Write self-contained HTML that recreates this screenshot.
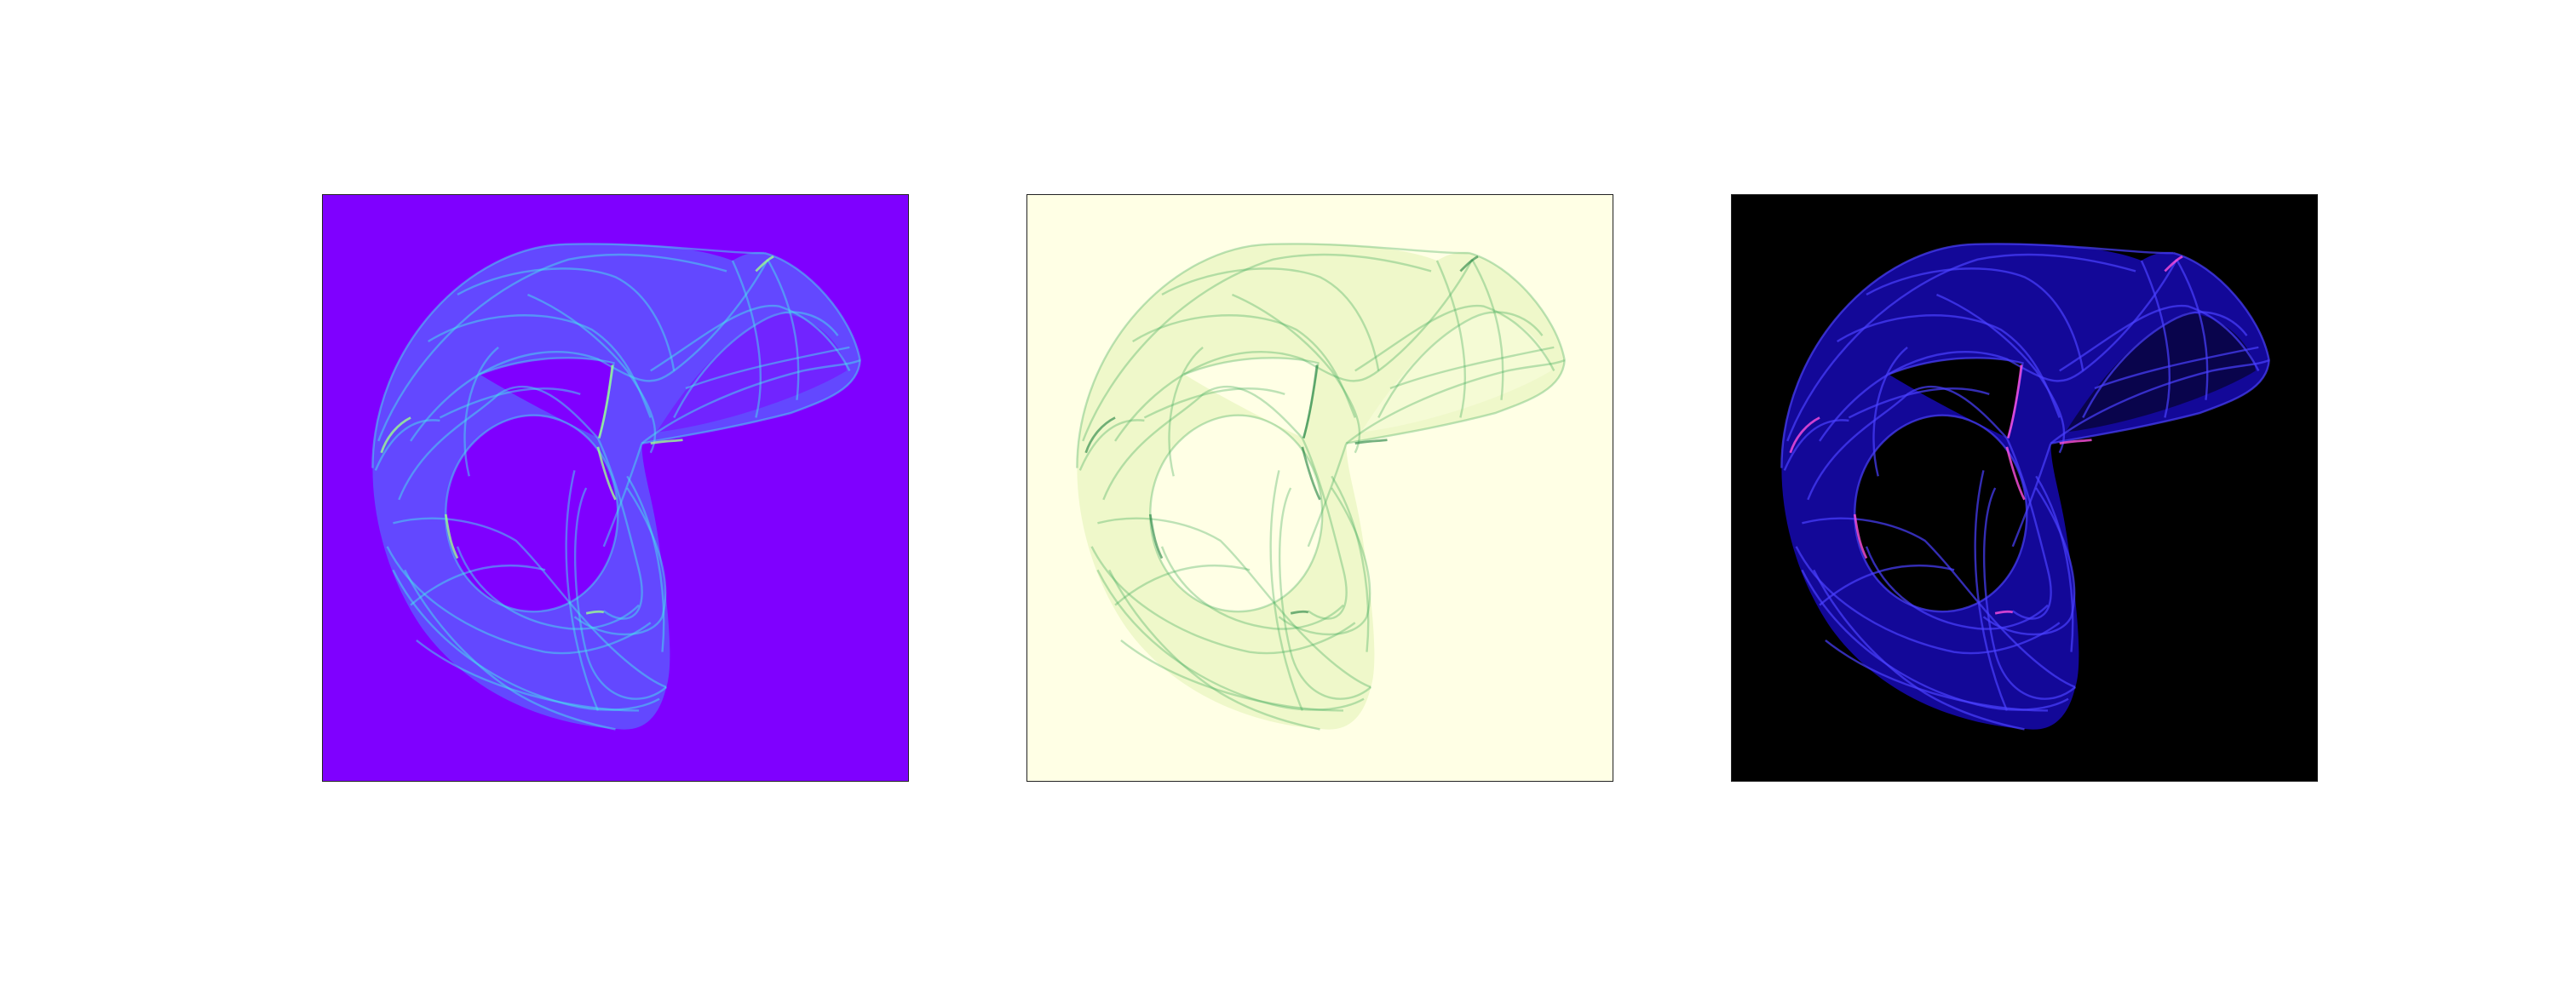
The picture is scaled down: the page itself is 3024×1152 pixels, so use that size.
<!DOCTYPE html>
<html><head><meta charset="utf-8">
<style>
html,body{margin:0;padding:0;background:#fff;}
body{width:3024px;height:1152px;position:relative;overflow:hidden;font-family:"Liberation Sans",sans-serif;}
.panel{position:absolute;top:228px;width:689px;height:690px;box-sizing:border-box;border:1.5px solid #222;}
svg{display:block;width:100%;height:100%;}
</style></head>
<body>
<div class="panel" id="p1" style="left:378px"></div>
<div class="panel" id="p2" style="left:1205px"></div>
<div class="panel" id="p3" style="left:2032px"></div>
<script>
const outerShape = "M85,466 C85,260 250,88 415,84 C560,80 650,92 700,112 C720,100 735,96 755,99 C830,120 905,210 918,282 C915,330 860,350 800,372 C700,398 610,412 545,424 C545,470 565,520 575,600 C590,700 600,800 587,840 C575,890 550,915 510,912 C380,905 250,850 170,740 C115,660 85,560 85,466 Z";
const holeShape = "M210,545 C210,440 290,376 360,376 C440,376 504,450 504,545 C504,640 440,711 360,711 C280,711 210,640 210,545 Z";
const upperHole = "M268,306 C360,270 450,275 497,287 C490,330 482,380 472,415 C420,390 340,350 268,306 Z";
const lobeInner = "M570,405 C630,310 700,230 780,200 C850,210 890,260 895,300 C830,340 690,390 570,405 Z";
const strands = [
 "M85,466 C85,260 250,88 415,84 C560,80 680,100 755,99",
 "M755,99 C830,120 905,210 918,282 C915,330 860,350 800,372 C700,398 610,412 545,424",
 "M210,545 C210,440 290,376 360,376 C440,376 504,450 504,545 C504,640 440,711 360,711 C280,711 210,640 210,545",
 "M268,306 C360,270 450,275 497,287 C490,330 482,380 472,415",
 "M150,420 C230,300 360,240 470,280 C540,320 560,330 600,300 C680,240 740,150 760,110",
 "M130,520 C170,420 260,380 300,340 C360,300 420,360 470,415",
 "M90,470 C120,400 160,380 200,385",
 "M120,560 C200,540 280,560 330,590 C380,640 420,700 480,760 C520,800 560,830 587,840",
 "M470,415 C500,480 520,560 540,640 C560,720 520,740 480,710",
 "M450,500 C420,560 430,700 450,780 C470,860 540,880 587,840",
 "M500,912 C440,900 380,880 330,850 C250,800 180,720 140,640",
 "M545,424 C520,500 500,550 480,600",
 "M560,300 C640,250 720,180 780,190 C840,210 880,260 900,300",
 "M545,424 C600,380 700,330 820,300 C870,290 900,290 918,282",
 "M230,170 C300,130 420,110 500,140 C560,170 590,240 600,300",
 "M110,600 C160,700 280,760 380,780 C450,790 520,760 560,730",
 "M300,260 C250,300 230,400 250,480",
 "M700,112 C740,200 760,300 740,380",
 "M430,720 C480,760 560,760 580,720 C600,650 560,560 520,500",
 "M160,760 C260,840 420,880 540,880",
 "M350,170 C420,200 480,250 520,300 C560,360 580,400 560,440",
 "M95,420 C140,300 260,160 420,110 C520,90 620,110 690,130",
 "M180,250 C260,200 380,190 460,230 C520,270 540,330 560,380",
 "M120,640 C180,760 300,840 420,870 C480,885 540,880 575,860",
 "M230,600 C260,680 330,730 420,740 C480,745 520,720 540,700",
 "M600,380 C640,300 700,240 760,210 C800,190 850,200 880,240",
 "M760,110 C800,180 820,260 810,350",
 "M620,330 C700,300 800,280 900,260",
 "M200,380 C300,330 380,320 440,340",
 "M430,470 C400,600 420,760 470,880",
 "M520,480 C570,560 590,680 580,780",
 "M150,700 C220,640 300,620 380,640"
];
const brights = [
 "M495,290 C490,330 482,380 472,415",
 "M100,440 C110,410 130,390 150,380",
 "M210,545 C215,580 220,600 230,620",
 "M560,424 C580,420 600,420 615,418",
 "M740,130 C750,120 760,110 770,105",
 "M470,430 C480,470 490,500 500,520",
 "M480,712 C470,710 460,712 450,714"
];
const schemes = {
 p1:{bg:"#7f00ff", band:"#6050ff", bandOp:0.9, lobe:"#7f00ff", stroke:"#48e0f0", sop:0.5, bright:"#9cff90", bop:0.8},
 p2:{bg:"#ffffe5", band:"#eef8c8", bandOp:0.95, lobe:"#fbfde0", stroke:"#41ab5d", sop:0.35, bright:"#1a7f3c", bop:0.6},
 p3:{bg:"#000000", band:"#1408a0", bandOp:0.95, lobe:"#000000", stroke:"#4a40ff", sop:0.7, bright:"#ff50e0", bop:0.8}
};
const NS = "http://www.w3.org/2000/svg";
for (const id in schemes) {
  const s = schemes[id];
  const svg = document.createElementNS(NS, "svg");
  svg.setAttribute("viewBox", "0 0 1000 1000");
  svg.setAttribute("preserveAspectRatio", "none");
  const bg = document.createElementNS(NS, "rect");
  
  
  bg.setAttribute("width", "1000"); bg.setAttribute("height", "1000"); bg.setAttribute("fill", s.bg);
  svg.appendChild(bg);
  const band = document.createElementNS(NS, "path");
  
  
  band.setAttribute("d", outerShape + " " + holeShape + " " + upperHole);
  band.setAttribute("fill-rule", "evenodd");
  band.setAttribute("fill", s.band); band.setAttribute("fill-opacity", s.bandOp);
  svg.appendChild(band);
  const lobe = document.createElementNS(NS, "path");
  
  
  lobe.setAttribute("d", lobeInner);
  lobe.setAttribute("fill", s.lobe); lobe.setAttribute("fill-opacity", 0.5);
  svg.appendChild(lobe);
  strands.forEach(d => {
    const p = document.createElementNS(NS, "path");
    
    
    p.setAttribute("d", d); p.setAttribute("fill", "none");
    p.setAttribute("stroke", s.stroke); p.setAttribute("stroke-opacity", s.sop);
    p.setAttribute("stroke-width", "3.5");
    svg.appendChild(p);
  });
  brights.forEach(d => {
    const p = document.createElementNS(NS, "path");
    
    
    p.setAttribute("d", d); p.setAttribute("fill", "none");
    p.setAttribute("stroke", s.bright); p.setAttribute("stroke-opacity", s.bop);
    p.setAttribute("stroke-width", "4");
    svg.appendChild(p);
  });
  document.getElementById(id).appendChild(svg);
}
</script>
</body></html>
